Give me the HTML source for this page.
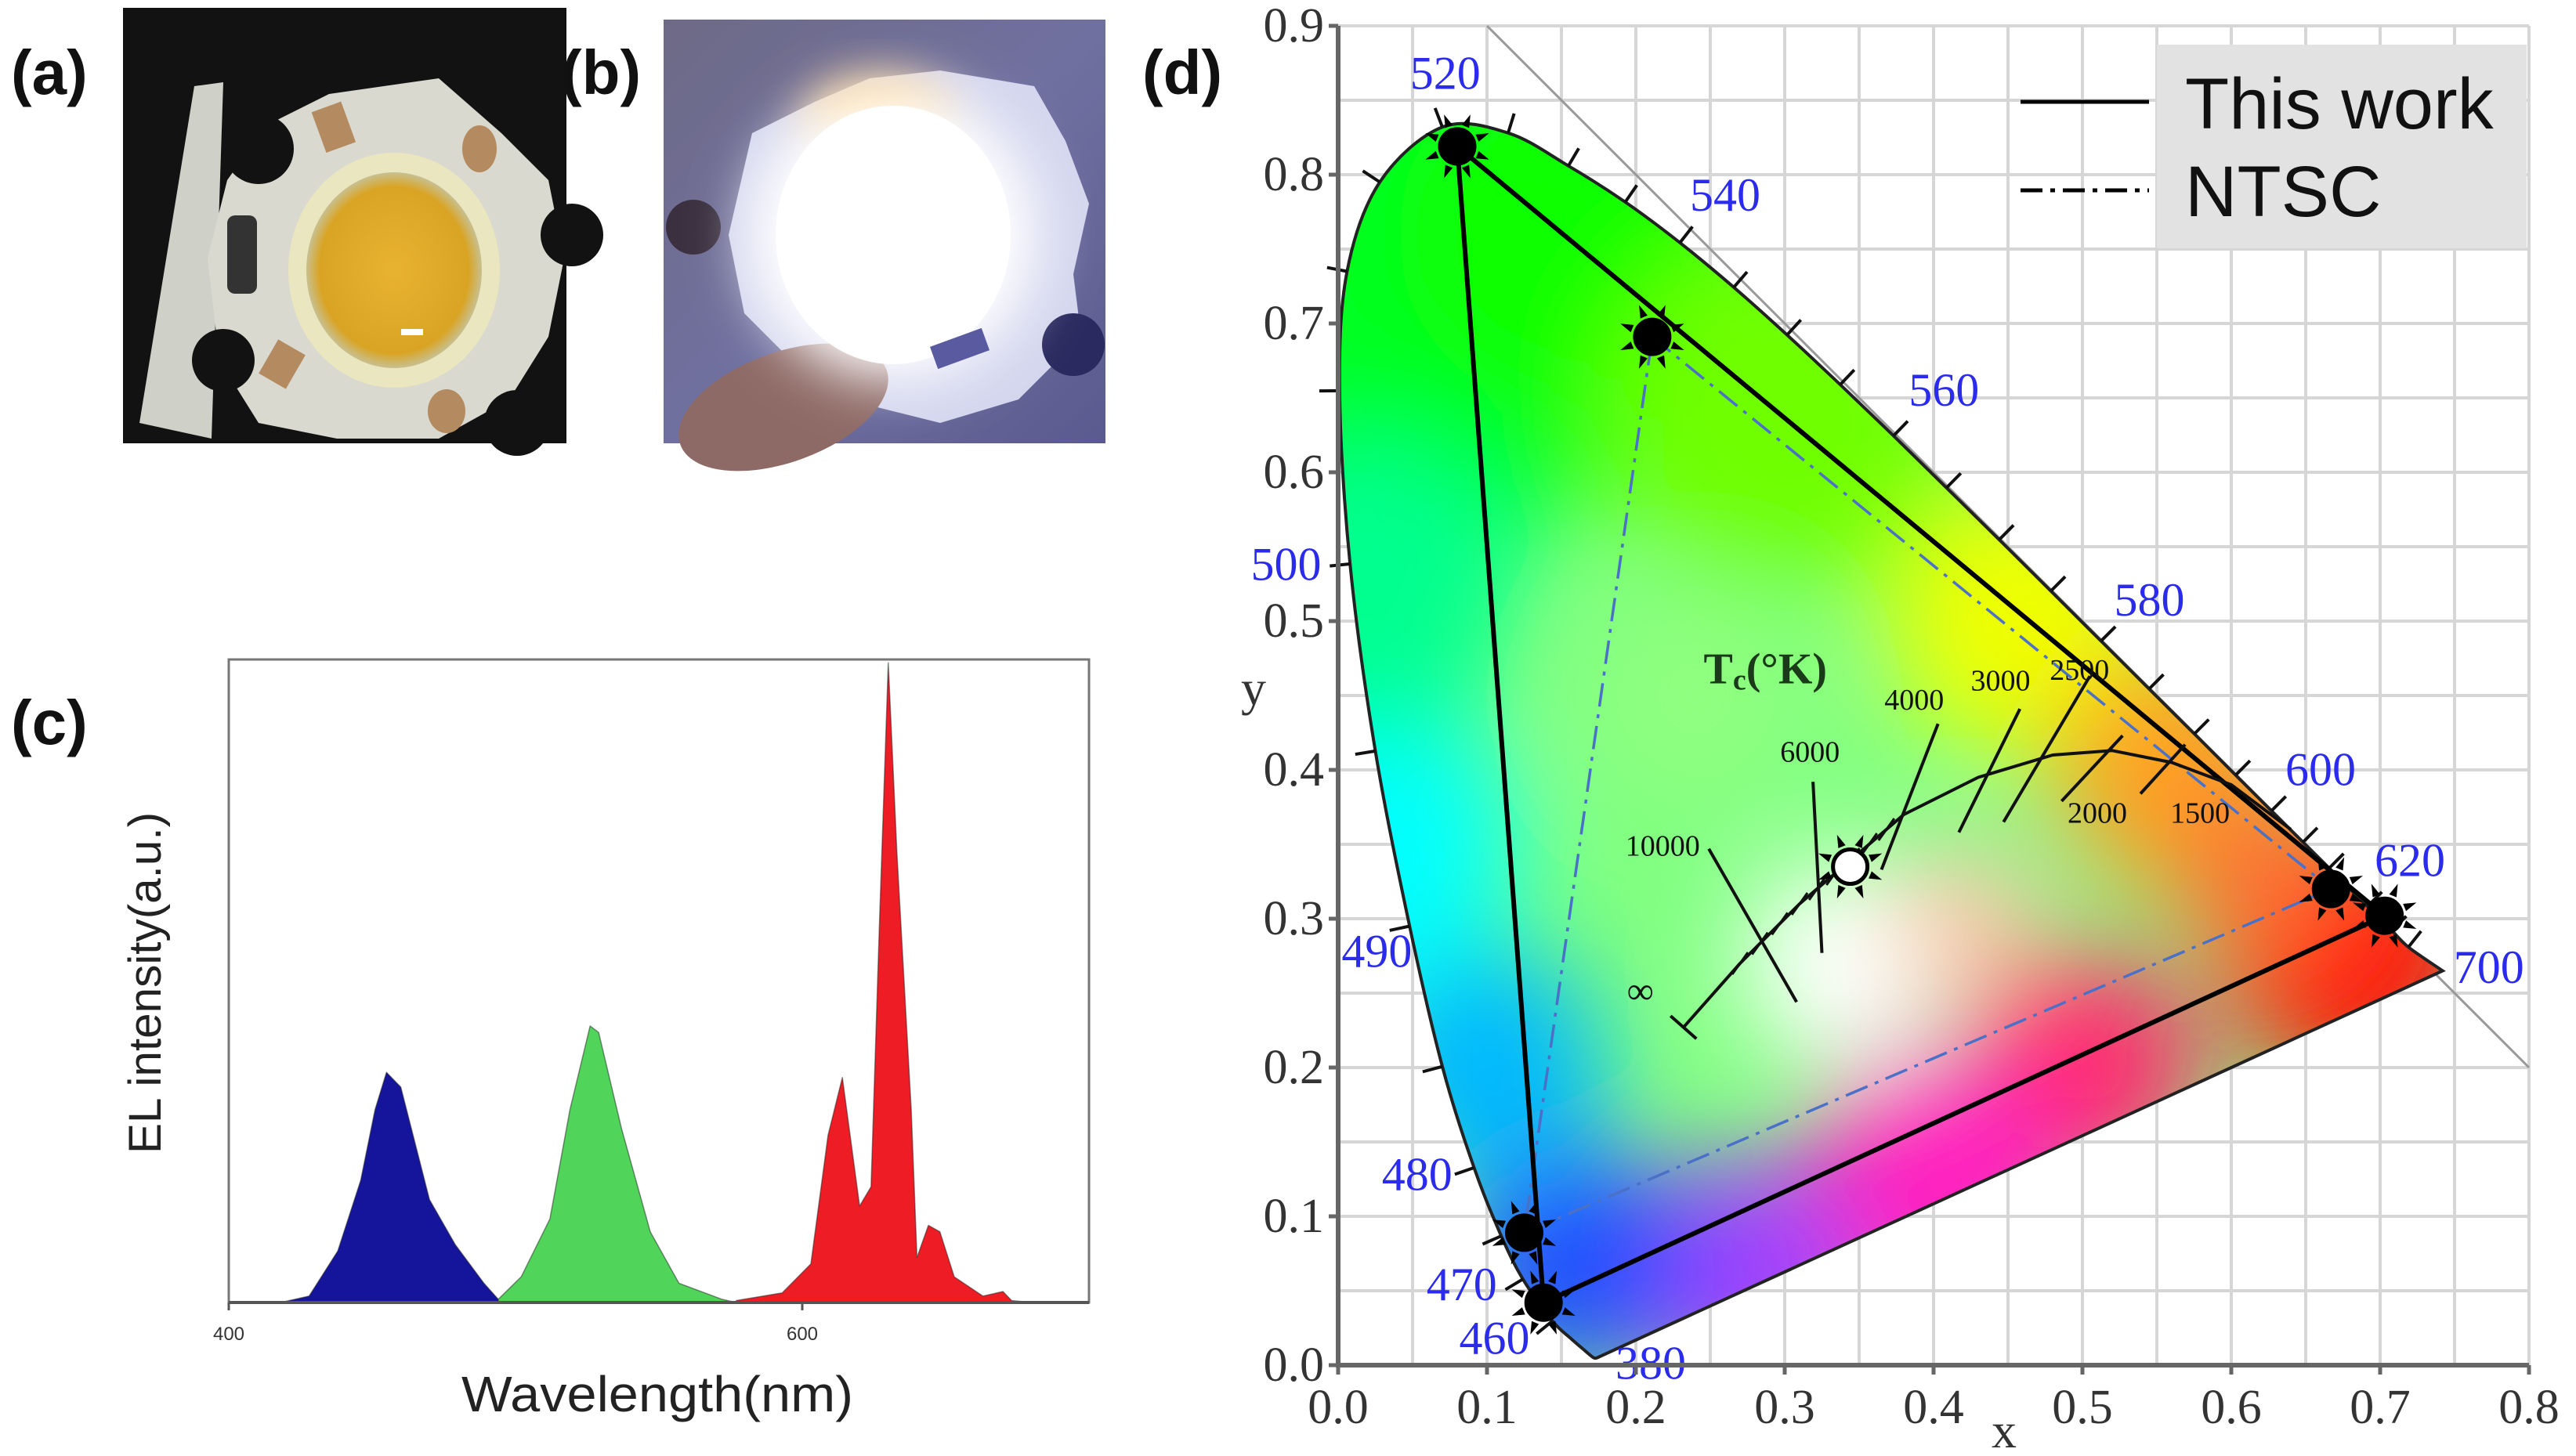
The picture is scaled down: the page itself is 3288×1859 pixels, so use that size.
<!DOCTYPE html>
<html><head><meta charset="utf-8"><style>
html,body{margin:0;padding:0;background:#fff;}
svg{display:block;}
</style></head><body>
<svg id="fig" xmlns="http://www.w3.org/2000/svg" width="3288" height="1859" viewBox="0 0 3288 1859">
<defs>
<filter id="blurBig" x="-50%" y="-50%" width="200%" height="200%"><feGaussianBlur stdDeviation="65"/></filter>
<filter id="blurMid" x="-50%" y="-50%" width="200%" height="200%"><feGaussianBlur stdDeviation="30"/></filter>
<radialGradient id="yellowLens" cx="50%" cy="50%" r="50%"><stop offset="0" stop-color="#e8b330"/><stop offset="0.85" stop-color="#d9a424"/><stop offset="1" stop-color="#c8c090"/></radialGradient>
<radialGradient id="glow" cx="50%" cy="50%" r="50%"><stop offset="0" stop-color="#ffffff"/><stop offset="0.7" stop-color="#ffffff"/><stop offset="1" stop-color="#ffffff" stop-opacity="0"/></radialGradient>
<linearGradient id="bgB" x1="0" y1="0" x2="1" y2="1"><stop offset="0" stop-color="#6e6a86"/><stop offset="0.5" stop-color="#7070a0"/><stop offset="1" stop-color="#5a5a90"/></linearGradient>
</defs>

<g font-family="Liberation Sans, sans-serif" font-weight="bold" font-size="80" fill="#111">
<text x="14" y="120">(a)</text>
<text x="716" y="120">(b)</text>
<text x="14" y="950">(c)</text>
<text x="1458" y="120">(d)</text>
</g>

<g>
<rect x="157" y="10" width="566" height="556" fill="#121212"/>
<polygon points="248,110 285,105 270,560 178,540" fill="#cfd0c8"/>
<polygon points="340,160 420,120 560,100 640,170 700,230 720,330 700,430 650,510 560,560 430,560 330,540 280,460 265,330 290,230" fill="#d9d9cf"/>
<circle cx="330" cy="190" r="45" fill="#121212"/>
<circle cx="660" cy="110" r="45" fill="#121212"/>
<circle cx="730" cy="300" r="40" fill="#121212"/>
<circle cx="660" cy="540" r="42" fill="#121212"/>
<circle cx="285" cy="460" r="40" fill="#121212"/>
<ellipse cx="503" cy="345" rx="135" ry="150" fill="#eae6c0"/>
<ellipse cx="503" cy="345" rx="112" ry="125" fill="url(#yellowLens)"/>
<rect x="405" y="135" width="40" height="55" fill="#b48a60" transform="rotate(-20 425 160)"/>
<ellipse cx="612" cy="190" rx="22" ry="30" fill="#b48a60"/>
<rect x="340" y="440" width="40" height="50" fill="#b48a60" transform="rotate(30 360 465)"/>
<ellipse cx="570" cy="525" rx="24" ry="28" fill="#b48a60"/>
<rect x="290" y="275" width="38" height="100" rx="10" fill="#333"/>
<rect x="512" y="420" width="28" height="8" fill="#fff"/>
</g>

<g>
<rect x="847" y="25" width="564" height="541" fill="url(#bgB)"/>
<polygon points="960,170 1040,130 1110,100 1200,90 1320,110 1360,180 1390,260 1370,350 1380,430 1300,510 1200,540 1120,520 1020,470 950,400 930,300" fill="#d4d6ee"/>
<circle cx="885" cy="290" r="35" fill="#3a3040"/>
<circle cx="1370" cy="440" r="40" fill="#2a2a60"/>
<ellipse cx="1000" cy="520" rx="140" ry="70" fill="#8e6a66" transform="rotate(-20 1000 520)"/>
<ellipse cx="1120" cy="150" rx="90" ry="50" fill="#ffd080" filter="url(#blurMid)"/>
<ellipse cx="1140" cy="300" rx="215" ry="215" fill="url(#glow)" filter="url(#blurMid)"/>
<ellipse cx="1140" cy="300" rx="150" ry="165" fill="#ffffff"/>
<rect x="1190" y="430" width="70" height="30" fill="#5a5aa0" transform="rotate(-20 1225 445)"/>
</g>

<g id="specG"></g>
<g id="cieG"></g>
</svg>

<script>
// ---------- Panel (c) data ----------
const blueWl  = [418,428,438,446,451,455,460,470,479,489,494];
const blueVal = [0,0.01,0.08,0.19,0.30,0.358,0.335,0.16,0.09,0.03,0.005];
const greenWl  = [494,502,512,519,526,529,537,547,557,572,577];
const greenVal = [0.005,0.04,0.13,0.30,0.43,0.42,0.27,0.11,0.03,0.005,0];
const redWl  = [577,593,603,609,614,620,624,627,630,633,638,640,644,648,653,663,670,673,680];
const redVal = [0.003,0.015,0.06,0.26,0.35,0.15,0.18,0.60,0.995,0.70,0.30,0.07,0.12,0.11,0.04,0.01,0.017,0.003,0];
const specTicks = [400,600];

// ---------- Panel (d) data ----------
const locusWl = [380,420,440,450,460,470,475,480,485,490,495,500,505,510,515,520,525,530,535,540,545,550,555,560,565,570,575,580,585,590,595,600,605,610,620,630,640,700];
const locusX = [0.1741,0.1714,0.1644,0.1566,0.1440,0.1241,0.1096,0.0913,0.0700,0.0480,0.0250,0.0080,0.0010,0.0060,0.0280,0.0700,0.1142,0.1547,0.1929,0.2296,0.2658,0.3016,0.3373,0.3731,0.4087,0.4441,0.4788,0.5125,0.5448,0.5752,0.6029,0.6270,0.6482,0.6658,0.6915,0.7079,0.7190,0.7420];
const locusY = [0.0050,0.0051,0.0109,0.0177,0.0297,0.0578,0.0868,0.1327,0.2007,0.2950,0.4127,0.5384,0.6548,0.7350,0.7950,0.8320,0.8280,0.8059,0.7816,0.7543,0.7243,0.6923,0.6589,0.6245,0.5896,0.5547,0.5202,0.4866,0.4544,0.4242,0.3965,0.3725,0.3514,0.3340,0.3083,0.2920,0.2809,0.2650];
const wlLabels = ["520","540","560","580","600","620","700","380","460","470","480","490","500"];
const wlLabelX = [0.072,0.26,0.407,0.545,0.66,0.72,0.773,0.21,0.105,0.083,0.053,0.026,-0.035];
const wlLabelY = [0.865,0.783,0.652,0.511,0.397,0.336,0.264,-0.002,0.015,0.051,0.125,0.275,0.535];
const thisWorkX = [0.080,0.703,0.138];
const thisWorkY = [0.819,0.302,0.042];
const ntscX = [0.211,0.667,0.125];
const ntscY = [0.691,0.320,0.089];
const whiteX = [0.344];
const whiteY = [0.335];
const planckX = [0.232,0.27,0.31,0.345,0.38,0.43,0.48,0.52,0.56,0.60,0.64];
const planckY = [0.227,0.27,0.31,0.34,0.37,0.395,0.41,0.413,0.405,0.39,0.36];
const isoLabels = ["10000","6000","4000","3000","2500","2000","1500"];
const isoX1 = [0.249,0.319,0.403,0.458,0.505,0.527,0.569];
const isoY1 = [0.347,0.392,0.431,0.441,0.463,0.423,0.417];
const isoX2 = [0.308,0.325,0.365,0.417,0.447,0.486,0.539];
const isoY2 = [0.244,0.277,0.333,0.358,0.365,0.379,0.384];
const isoLabX = [0.218,0.317,0.387,0.445,0.498,0.51,0.579];
const isoLabY = [0.347,0.41,0.445,0.458,0.465,0.369,0.369];
const xTicks = [0,0.1,0.2,0.3,0.4,0.5,0.6,0.7,0.8];
const yTicks = [0,0.1,0.2,0.3,0.4,0.5,0.6,0.7,0.8,0.9];
const fillX = [0.06,0.16,0.30,0.46,0.56,0.68,0.50,0.40,0.27,0.16,0.10,0.02,0.02,0.34,0.24,0.62,0.42];
const fillY = [0.72,0.76,0.64,0.50,0.40,0.28,0.20,0.12,0.06,0.07,0.20,0.35,0.52,0.27,0.45,0.33,0.30];
const fillC = ["#00ff20","#10ff00","#70ff00","#f0ff00","#ffa020","#ff1010","#ff2a70","#ff20c0","#a040ff","#2050ff","#00b8ff","#00ffff","#00ff90","#ffffff","#90ff80","#ff7030","#ffc8b0"];
const fillR = [0.18,0.12,0.12,0.09,0.08,0.09,0.08,0.09,0.08,0.08,0.08,0.1,0.1,0.07,0.07,0.06,0.05];

const NS = "http://www.w3.org/2000/svg";
function mk(tag, attrs, parent){
  const e = document.createElementNS(NS, tag);
  for (const k in attrs) e.setAttribute(k, attrs[k]);
  parent.appendChild(e);
  return e;
}

// ===== Panel (c) =====
(function(){
  const g = document.getElementById('specG');
  const L=292, R=1390, T=842, B=1663;
  const sx = w => L + (w-400)/300*(R-L);
  const sy = v => B - v*(B-T);
  const frame = mk('rect',{x:L,y:T,width:R-L,height:B-T,fill:'none',stroke:'#777','stroke-width':3},g);
  
  
  function area(wl, val, color, name){
    let d = 'M'+sx(wl[0])+','+B;
    for(let i=0;i<wl.length;i++) d += ' L'+sx(wl[i]).toFixed(1)+','+sy(val[i]).toFixed(1);
    d += ' L'+sx(wl[wl.length-1])+','+B+' Z';
    const p = mk('path',{d:d,fill:color,stroke:'#222','stroke-width':1.5,'stroke-opacity':0.5,'stroke-linejoin':'round'},g);
    
    
  }
  area(blueWl,blueVal,'#15159c','blue-emission-peak');
  area(greenWl,greenVal,'#50d45a','green-emission-peak');
  area(redWl,redVal,'#ee1c24','red-emission-peak');
  const bl = mk('line',{x1:L,y1:B,x2:R,y2:B,stroke:'#555','stroke-width':4},g);
  
  
  specTicks.forEach(t=>{
    const tk = mk('line',{x1:sx(t),y1:B,x2:sx(t),y2:B+10,stroke:'#555','stroke-width':3},g);
    
    
    const tx = mk('text',{x:sx(t),y:B+48,'text-anchor':'middle','font-family':'Liberation Sans, sans-serif','font-size':24,fill:'#333'},g);
    tx.textContent = t;
    
    
  });
  const xt = mk('text',{x:839,y:1802,'text-anchor':'middle','font-family':'Liberation Sans, sans-serif','font-size':64,fill:'#222',textLength:500,lengthAdjust:'spacingAndGlyphs'},g);
  xt.textContent='Wavelength(nm)';
  
  
  const yt = mk('text',{x:0,y:0,'text-anchor':'middle','font-family':'Liberation Sans, sans-serif','font-size':58,fill:'#222',textLength:436,lengthAdjust:'spacingAndGlyphs',transform:'translate(205,1255) rotate(-90)'},g);
  yt.textContent='EL intensity(a.u.)';
  
  
})();

// ===== Panel (d) =====
(function(){
  const g = document.getElementById('cieG');
  const X = x => 1708 + 1900*x;
  const Y = y => 1743 - 1900*y;
  for(let i=0;i<=16;i++){
    const v=i*0.05;
    const l = mk('line',{x1:X(v),y1:Y(0),x2:X(v),y2:Y(0.9),stroke:'#d6d6d6','stroke-width':4},g);
    
    
  }
  for(let i=0;i<=18;i++){
    const v=i*0.05;
    const l = mk('line',{x1:X(0),y1:Y(v),x2:X(0.8),y2:Y(v),stroke:'#d6d6d6','stroke-width':4},g);
    
    
  }
  const dg = mk('line',{x1:X(0.1),y1:Y(0.9),x2:X(0.8),y2:Y(0.2),stroke:'#999','stroke-width':3},g);
  
  

  // smooth locus path (Catmull-Rom)
  const P = locusX.map((x,i)=>[X(x),Y(locusY[i])]);
  let d = 'M'+P[0][0].toFixed(1)+','+P[0][1].toFixed(1);
  for(let i=0;i<P.length-1;i++){
    const p0=P[Math.max(i-1,0)], p1=P[i], p2=P[i+1], p3=P[Math.min(i+2,P.length-1)];
    const c1=[p1[0]+(p2[0]-p0[0])/6, p1[1]+(p2[1]-p0[1])/6];
    const c2=[p2[0]-(p3[0]-p1[0])/6, p2[1]-(p3[1]-p1[1])/6];
    d += ' C'+c1.map(v=>v.toFixed(1)).join(',')+' '+c2.map(v=>v.toFixed(1)).join(',')+' '+p2.map(v=>v.toFixed(1)).join(',');
  }
  d += ' Z';
  const cp = mk('clipPath',{id:'locusClip'},document.querySelector('defs'));
  mk('path',{d:d},cp);
  const fillG = mk('g',{'clip-path':'url(#locusClip)'},g);
  
  
  mk('path',{d:d,fill:'#80ff80'},fillG);
  const bg = mk('g',{filter:'url(#blurBig)'},fillG);
  fillX.forEach((x,i)=>{
    mk('circle',{cx:X(x),cy:Y(fillY[i]),r:fillR[i]*1900,fill:fillC[i]},bg);
  });
  const loc = mk('path',{d:d,fill:'none',stroke:'#222','stroke-width':4},g);
  
  

  for(let i=1;i<locusX.length-1;i++){
    const wl = locusWl[i];
    if(wl<460) continue;
    const dx = X(locusX[i+1])-X(locusX[i-1]);
    const dy = Y(locusY[i+1])-Y(locusY[i-1]);
    const len = Math.hypot(dx,dy);
    let nx = dy/len, ny = -dx/len;
    const cx = X(locusX[i]), cy = Y(locusY[i]);
    if((cx-X(0.33))*nx + (cy-Y(0.33))*ny < 0){nx=-nx;ny=-ny;}
    const tk = mk('line',{x1:cx,y1:cy,x2:cx+nx*26,y2:cy+ny*26,stroke:'#111','stroke-width':4},g);
    
    
  }
  wlLabels.forEach((t,i)=>{
    const tx = mk('text',{x:X(wlLabelX[i]),y:Y(wlLabelY[i]),'text-anchor':'middle','dominant-baseline':'middle','font-family':'Liberation Serif, serif','font-size':60,fill:'#2b2bee'},g);
    tx.textContent=t;
    
    
  });

  const ntscPts = ntscX.map((x,i)=>X(x)+','+Y(ntscY[i])).join(' ');
  const nt = mk('polygon',{points:ntscPts,fill:'none',stroke:'#4a70c8','stroke-width':3.5,'stroke-dasharray':'30,10,5,10'},g);
  
  
  const twPts = thisWorkX.map((x,i)=>X(x)+','+Y(thisWorkY[i])).join(' ');
  const tw = mk('polygon',{points:twPts,fill:'none',stroke:'#000','stroke-width':6},g);
  
  

  let pd='';
  planckX.forEach((x,i)=>{pd+=(i?' L':'M')+X(x).toFixed(1)+','+Y(planckY[i]).toFixed(1);});
  const pl = mk('path',{d:pd,fill:'none',stroke:'#111','stroke-width':4,'stroke-linejoin':'round'},g);
  
  
  {
    const x0=X(planckX[0]), y0=Y(planckY[0]);
    const dx=X(planckX[1])-x0, dy=Y(planckY[1])-y0, l=Math.hypot(dx,dy);
    const cap = mk('line',{x1:x0+dy/l*22,y1:y0-dx/l*22,x2:x0-dy/l*22,y2:y0+dx/l*22,stroke:'#111','stroke-width':4},g);
    
    
  }
  for(let i=1;i<4;i++){
    for(let k=0;k<3;k++){
      const t=k/3;
      const x=planckX[i]+(planckX[i+1]-planckX[i])*t, y=planckY[i]+(planckY[i+1]-planckY[i])*t;
      const st = mk('line',{x1:X(x)+10,y1:Y(y)-14,x2:X(x)-10,y2:Y(y)+14,stroke:'#111','stroke-width':3},g);
      
      
    }
  }
  isoLabels.forEach((t,i)=>{
    const il = mk('line',{x1:X(isoX1[i]),y1:Y(isoY1[i]),x2:X(isoX2[i]),y2:Y(isoY2[i]),stroke:'#111','stroke-width':4},g);
    
    
    const tx = mk('text',{x:X(isoLabX[i]),y:Y(isoLabY[i]),'text-anchor':'middle','dominant-baseline':'middle','font-family':'Liberation Serif, serif','font-size':38,fill:'#111'},g);
    tx.textContent=t;
    
    
  });
  const inf = mk('text',{x:X(0.203),y:Y(0.249),'text-anchor':'middle','dominant-baseline':'middle','font-family':'Liberation Serif, serif','font-size':48,fill:'#111'},g);
  inf.textContent='∞';
  
  
  const tc = mk('text',{x:X(0.287),y:Y(0.465),'text-anchor':'middle','dominant-baseline':'middle','font-family':'Liberation Serif, serif','font-size':56,'font-weight':'bold',fill:'#1a3a1a'},g);
  tc.innerHTML='T<tspan font-size="38" dy="12">c</tspan><tspan dy="-12">(°K)</tspan>';
  
  

  function dot(x,y,fill,name){
    const cx=X(x), cy=Y(y);
    for(let k=0;k<8;k++){
      const a=k*Math.PI/4+Math.PI/8;
      const r1=28,r2=44;
      const p1=[cx+Math.cos(a)*r2,cy+Math.sin(a)*r2];
      const p2=[cx+Math.cos(a-0.18)*r1,cy+Math.sin(a-0.18)*r1];
      const p3=[cx+Math.cos(a+0.18)*r1,cy+Math.sin(a+0.18)*r1];
      const sp = mk('polygon',{points:p1.join(',')+' '+p2.join(',')+' '+p3.join(','),fill:'#000'},g);
      
      
    }
    const c = mk('circle',{cx:cx,cy:cy,r:22,fill:fill,stroke:'#000','stroke-width':5},g);
    
    
  }
  ntscX.forEach((x,i)=>dot(x,ntscY[i],'#000','ntsc-primary-point'));
  thisWorkX.forEach((x,i)=>dot(x,thisWorkY[i],'#000','this-work-primary-point'));
  whiteX.forEach((x,i)=>dot(x,whiteY[i],'#fff','white-point'));

  const ax = mk('path',{d:'M'+X(0)+','+Y(0.9)+' L'+X(0)+','+Y(0)+' L'+X(0.8)+','+Y(0),fill:'none',stroke:'#666','stroke-width':6},g);
  
  
  xTicks.forEach(t=>{
    const tk = mk('line',{x1:X(t),y1:Y(0),x2:X(t),y2:Y(0)+12,stroke:'#666','stroke-width':5},g);
    
    
    const tx = mk('text',{x:X(t),y:1817,'text-anchor':'middle','font-family':'Liberation Serif, serif','font-size':62,fill:'#333'},g);
    tx.textContent=t.toFixed(1);
    
    
  });
  yTicks.forEach(t=>{
    const tk = mk('line',{x1:X(0)-12,y1:Y(t),x2:X(0),y2:Y(t),stroke:'#666','stroke-width':5},g);
    
    
    const tx = mk('text',{x:1690,y:Y(t)+20,'text-anchor':'end','font-family':'Liberation Serif, serif','font-size':62,fill:'#333'},g);
    tx.textContent=t.toFixed(1);
    
    
  });
  const xl = mk('text',{x:2558,y:1848,'text-anchor':'middle','font-family':'Liberation Serif, serif','font-size':64,fill:'#333'},g);
  xl.textContent='x';
  
  
  const yl = mk('text',{x:1600,y:900,'text-anchor':'middle','font-family':'Liberation Serif, serif','font-size':64,fill:'#333'},g);
  yl.textContent='y';
  
  

  const lg = mk('g',{},g);
  
  
  mk('rect',{x:2753,y:57,width:472,height:260,fill:'#e2e2e2'},lg);
  const l1 = mk('line',{x1:2579,y1:130,x2:2743,y2:130,stroke:'#000','stroke-width':5},lg);
  
  
  const l2 = mk('line',{x1:2579,y1:243,x2:2743,y2:243,stroke:'#000','stroke-width':5,'stroke-dasharray':'28,10,6,10'},lg);
  
  
  const t1 = mk('text',{x:2789,y:164,'font-family':'Liberation Sans, sans-serif','font-size':92,fill:'#111'},lg);
  t1.textContent='This work';
  
  
  const t2 = mk('text',{x:2789,y:276,'font-family':'Liberation Sans, sans-serif','font-size':92,fill:'#111'},lg);
  t2.textContent='NTSC';
  
  
})();
</script>
</body></html>
